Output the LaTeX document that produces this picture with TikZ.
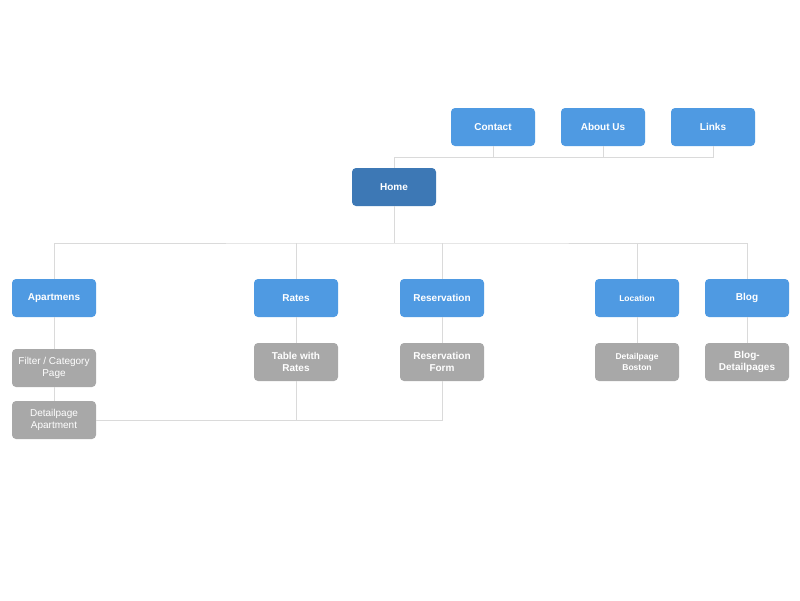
\documentclass[tikz,border=0pt]{standalone}
\usepackage{fontspec}
\setmainfont{Liberation Sans}
\definecolor{bluebox}{HTML}{4F9AE2}
\definecolor{homebox}{HTML}{3D78B5}
\definecolor{graybox}{HTML}{A8A8A8}
\definecolor{linec}{HTML}{DADADA}
\begin{document}
\begin{tikzpicture}[x=1pt,y=-1pt,
  box/.style={minimum width=84pt,minimum height=38pt,rounded corners=4pt,inner sep=1pt,text=white,align=center,font=\fontsize{10}{12}\selectfont\bfseries},
  bluenode/.style={box,fill=bluebox},
  homenode/.style={box,fill=homebox},
  graynode/.style={box,fill=graybox},
  graylight/.style={box,fill=graybox,font=\fontsize{10}{12}\selectfont},
  smallnode/.style={font=\fontsize{8.5}{10.5}\selectfont\bfseries},
  conn/.style={draw=linec,line width=1pt}]
\useasboundingbox (0,0) rectangle (800,600);
\fill[white] (0,0) rectangle (800,600);
% coordinates for connectors
\coordinate (topbar) at (394,157);
\coordinate (midbarH) at (394,243);
\coordinate (lowR) at (442,420);
\coordinate (lowM) at (296,420);
% nodes
\node[bluenode] (contact) at (493,127) {Contact};
\node[bluenode] (about) at (603,127) {About Us};
\node[bluenode] (links) at (713,127) {Links};
\node[homenode] (home) at (394,187) {Home};
\node[bluenode] (apart) at (54,298) {Apartmens};
\node[bluenode] (rates) at (296,298) {Rates};
\node[bluenode] (reserv) at (442,298) {Reservation};
\node[bluenode,smallnode] (loc) at (637,298) {Location};
\node[bluenode] (blog) at (747,298) {Blog};
\node[graylight] (filter) at (54,368) {Filter / Category\\Page};
\node[graylight] (detail) at (54,420) {Detailpage\\Apartment};
\node[graynode] (table) at (296,362) {Table with\\Rates};
\node[graynode] (form) at (442,362) {Reservation\\Form};
\node[graynode,smallnode] (boston) at (637,362) {Detailpage\\Boston};
\node[graynode] (blogd) at (747,362) {Blog-\\Detailpages};
% connectors
\draw[conn] (contact.south) |- (topbar) -- (home.north);
\draw[conn] (topbar) -| (links.south);
\draw[conn] (about.south) -- (about.south |- topbar);
\draw[conn] (home.south) -- (midbarH);
\draw[conn] (apart.north) |- (midbarH) -| (blog.north);
\draw[conn] (rates.north) -- (rates.north |- midbarH);
\draw[conn] (reserv.north) -- (reserv.north |- midbarH);
\draw[conn] (loc.north) -- (loc.north |- midbarH);
\draw[conn] (apart.south) -- (filter.north);
\draw[conn] (filter.south) -- (detail.north);
\draw[conn] (detail.east) -- (lowR) -- (form.south);
\draw[conn] (form.north) -- (reserv.south);
\draw[conn] (rates.south) -- (table.north);
\draw[conn] (table.south) -- (lowM);
\draw[conn] (loc.south) -- (boston.north);
\draw[conn] (blog.south) -- (blogd.north);
\end{tikzpicture}
\end{document}
